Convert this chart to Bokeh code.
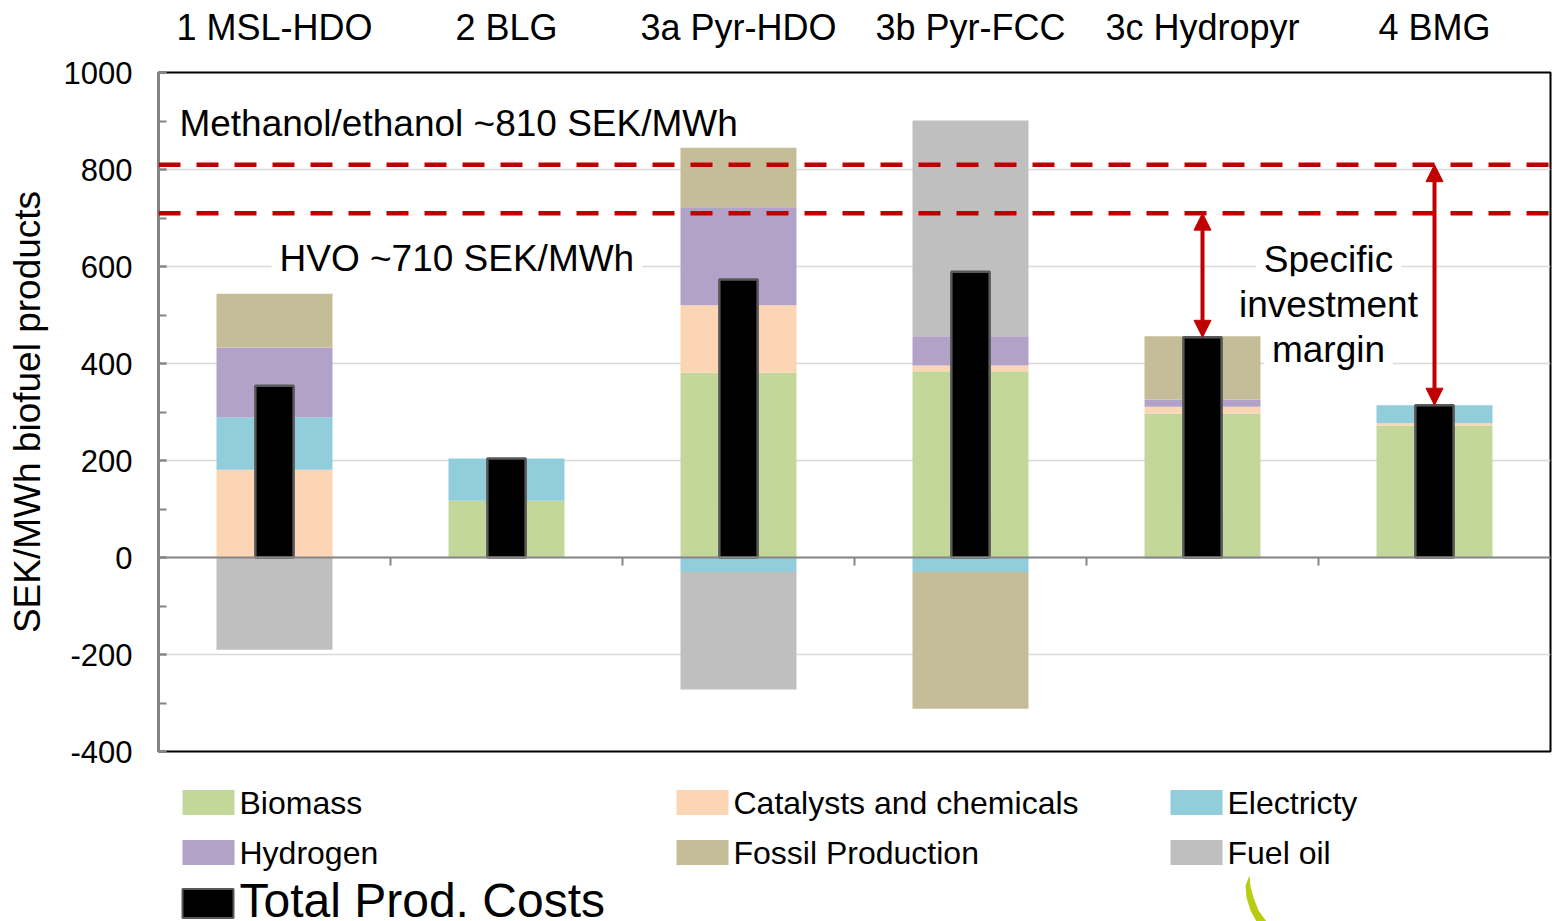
import numpy as np
from bokeh.plotting import figure
from bokeh.models import Range1d, LinearAxis, FixedTicker, Span, Label, Arrow, NormalHead
from bokeh.layouts import column
from bokeh.core.properties import value
from bokeh.embed import file_html
from bokeh.resources import INLINE

# Production cost components, SEK/MWh biofuel products
categories = ["1 MSL-HDO", "2 BLG", "3a Pyr-HDO", "3b Pyr-FCC", "3c Hydropyr", "4 BMG"]
biomass = [0, 117, 381, 384, 297, 272]
catalysts = [181, 0, 139, 12, 14, 5]
electricity = [108, 87, -30, -30, -2, 37]
hydrogen = [144, 0, 202, 60, 15, 0]
fossil = [111, 0, 123, -282, 130, 0]
fuel_oil = [-190, 0, -242, 445, 0, 0]

series_names = ["Biomass", "Catalysts and chemicals", "Electricty",
                "Hydrogen", "Fossil Production", "Fuel oil"]
series_colors = ["#c4d79b", "#fcd5b5", "#92cddc", "#b2a2c7", "#c4bd97", "#bfbfbf"]
total_name = "Total Prod. Costs"

# Reference fuel prices
methanol_ethanol_price = 810
hvo_price = 710

y_ticks = [-400, -200, 0, 200, 400, 600, 800, 1000]
y_minor = list(range(-400, 1001, 100))

FONT = "Liberation Sans"
RED = "#c00000"
AXIS_GREY = "#868686"

series = [biomass, catalysts, electricity, hydrogen, fossil, fuel_oil]
n = len(categories)
xs = np.arange(n) + 0.5
totals = np.sum(np.array(series, dtype=float), axis=0)

LEFT, RIGHT = 158, 2

p = figure(width=1552, height=771, x_range=Range1d(0, n), y_range=Range1d(-400, 1000),
           output_backend="svg", toolbar_location=None, x_axis_location=None,
           min_border_left=LEFT, min_border_right=RIGHT, min_border_top=72, min_border_bottom=20)
p.outline_line_color = "black"
p.outline_line_width = 2
p.background_fill_color = "white"

# y axis
yax = p.yaxis[0]
yax.ticker = FixedTicker(ticks=y_ticks, minor_ticks=y_minor)
yax.major_label_overrides = {t: str(t) for t in y_ticks}
yax.axis_line_color = AXIS_GREY
yax.axis_line_width = 2
yax.major_tick_line_color = AXIS_GREY
yax.minor_tick_line_color = AXIS_GREY
yax.major_tick_line_width = 2
yax.minor_tick_line_width = 2
yax.major_tick_in = 8
yax.major_tick_out = 0
yax.minor_tick_in = 8
yax.minor_tick_out = 0
yax.major_label_text_font = FONT
yax.major_label_text_font_size = "31px"
yax.major_label_text_color = "black"
yax.major_label_standoff = 26
yax.axis_label = "SEK/MWh biofuel products"
yax.axis_label_text_font = FONT
yax.axis_label_text_font_size = "37px"
yax.axis_label_text_font_style = "normal"
yax.axis_label_text_color = "black"
yax.axis_label_standoff = 13

p.xgrid.visible = False
p.ygrid.ticker = FixedTicker(ticks=y_ticks)
p.ygrid.grid_line_color = "#d9d9d9"
p.ygrid.grid_line_width = 1.5

# category names above the frame
top_axis = LinearAxis(ticker=FixedTicker(ticks=list(xs)),
                      major_label_overrides={float(x): c for x, c in zip(xs, categories)})
top_axis.axis_line_color = None
top_axis.major_tick_line_color = None
top_axis.minor_tick_line_color = None
top_axis.major_label_text_font = FONT
top_axis.major_label_text_font_size = "36px"
top_axis.major_label_text_color = "black"
top_axis.major_label_standoff = 19
p.add_layout(top_axis, "above")

# stacked components: positives upward from 0, negatives downward from 0
pos_base = np.zeros(n)
neg_base = np.zeros(n)
for vals, color in zip(series, series_colors):
    v = np.array(vals, dtype=float)
    bottom = np.where(v >= 0, pos_base, neg_base + v)
    top = np.where(v >= 0, pos_base + v, neg_base)
    pos_base = pos_base + np.clip(v, 0, None)
    neg_base = neg_base + np.clip(v, None, 0)
    p.vbar(x=xs, bottom=bottom, top=top, width=0.5, fill_color=color,
           line_color=None)

# total production cost bar
p.vbar(x=xs, bottom=0, top=totals, width=0.165, fill_color="black",
       line_color="#595959", line_width=2.5)

# zero line with category separators
p.add_layout(Span(location=0, dimension="width", line_color=AXIS_GREY, line_width=2))
px_per_unit = (751 - 72) / 1400.0
tick_len = 8 / px_per_unit
bounds = np.arange(1, n)
p.segment(x0=bounds, y0=0, x1=bounds, y1=-tick_len, line_color=AXIS_GREY, line_width=2)

# fuel price reference lines
for price in (methanol_ethanol_price, hvo_price):
    p.add_layout(Span(location=price, dimension="width", line_color=RED,
                      line_width=4.5, line_dash="22 16"))

# investment margin arrows
for idx, price in ((4, hvo_price), (5, methanol_ethanol_price)):
    p.add_layout(Arrow(start=NormalHead(size=17, fill_color=RED, line_color=RED),
                       end=NormalHead(size=17, fill_color=RED, line_color=RED),
                       x_start=xs[idx], y_start=totals[idx], x_end=xs[idx], y_end=price,
                       line_color=RED, line_width=4))

p.add_layout(Label(x=0.09, y=895, text="Methanol/ethanol ~%d SEK/MWh" % methanol_ethanol_price,
                   text_font=FONT, text_font_size="37px", text_baseline="middle",
                   text_color="black"))
p.add_layout(Label(x=0.487, y=617, text="HVO ~%d SEK/MWh" % hvo_price,
                   text_font=FONT, text_font_size="37px", text_baseline="middle",
                   text_color="black", background_fill_color="white", padding=8))
for line, y in zip(["Specific", "investment", "margin"], [614, 521, 428]):
    p.add_layout(Label(x=5.043, y=y, text=line, text_font=FONT, text_font_size="37px",
                       text_baseline="middle", text_align="center", text_color="black",
                       background_fill_color="white", padding=8))

# legend panel below the chart (frame aligned with the chart frame)
lf = figure(width=1552, height=150, x_range=Range1d(LEFT, 1552 - RIGHT),
            y_range=Range1d(921, 771), output_backend="svg", toolbar_location=None,
            min_border_left=LEFT, min_border_right=RIGHT, min_border_top=0, min_border_bottom=0)
lf.axis.visible = False
lf.grid.visible = False
lf.outline_line_color = None

col_x = [182 + 494 * (i % 3) for i in range(len(series_names))]
row_y = [802 + 50 * (i // 3) for i in range(len(series_names))]
lf.rect(x=[x + 26 for x in col_x], y=row_y, width=52, height=25,
        fill_color=series_colors, line_color=None)
lf.text(x=[x + 57 for x in col_x], y=row_y, text=series_names,
        text_font=value(FONT), text_font_size="32px", text_baseline="middle",
        text_color="black")
lf.rect(x=[207.5], y=[903], width=51, height=29, fill_color="black",
        line_color="#595959", line_width=2)
lf.text(x=[239], y=[900], text=[total_name], text_font=value(FONT),
        text_font_size="48px", text_baseline="middle", text_color="black")

# partial logo swoosh in the corner
lf.patch(x=[1249, 1245, 1246, 1250, 1256, 1266, 1258, 1253, 1250, 1249],
         y=[875, 885, 897, 910, 921, 921, 910, 897, 886, 875],
         fill_color="#b8cc10", line_color=None)

layout = column(p, lf, spacing=0)
open("out.html", "w").write(file_html(layout, INLINE))
